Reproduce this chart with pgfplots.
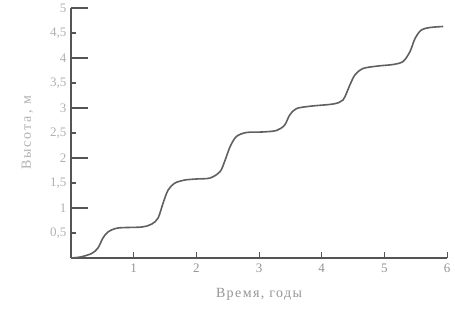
\documentclass[border=0pt]{standalone}
\usepackage{pgfplots}
\pgfplotsset{compat=1.18}
\usepackage{fontspec}
\setmainfont{Liberation Serif}
\definecolor{axc}{HTML}{555555}
\definecolor{crv}{HTML}{606060}
\definecolor{lab}{HTML}{959595}
\definecolor{ylab}{HTML}{B0B0B0}
\pgfplotsset{common/.style={
  scale only axis,
  /pgf/number format/assume math mode=true,
  x tick label style={font=\fontsize{13}{14}\selectfont, text=lab, yshift=-2pt},
  y tick label style={font=\fontsize{13}{14}\selectfont, text=ylab, xshift=-1pt},
  clip=false,
}}
\begin{document}
\begin{tikzpicture}
\begin{axis}[
  common, name=main,
  width=376pt, height=250pt,
  xmin=0, xmax=6, ymin=0, ymax=5,
  axis lines*=left,
  axis line style={draw=axc, line width=1.3pt},
  tick align=inside,
  major tick length=17pt,
  xtick={1,2,3,4,5,6},
  xticklabels={1,2,3,4,5,6},
  xtick style={draw=none},
  ytick={1,2,3,4,5},
  yticklabels={1,2,3,4,5},
  ytick style={draw=axc, line width=1.2pt},
  xlabel={\addfontfeatures{LetterSpace=10}Время, годы},
  xlabel style={font=\fontsize{14}{15}\selectfont, text=lab, yshift=-9pt},
  ylabel={\addfontfeatures{LetterSpace=14}Высота, м},
  ylabel style={font=\fontsize{14}{15}\selectfont, text=ylab, yshift=20pt},
]
\addplot[crv, line width=1.6pt, smooth, tension=0.5] coordinates {
(0,0) (0.15,0.02) (0.33,0.09) (0.43,0.2) (0.51,0.4) (0.59,0.52) (0.75,0.6)
(1.13,0.62) (1.29,0.68) (1.39,0.8) (1.47,1.1) (1.55,1.36) (1.66,1.5) (1.82,1.56)
(2.0,1.58) (2.22,1.6) (2.38,1.73) (2.46,1.96) (2.54,2.23) (2.64,2.43) (2.8,2.51)
(3.05,2.52) (3.28,2.55) (3.41,2.66) (3.49,2.86) (3.6,2.99) (3.85,3.04)
(4.18,3.08) (4.34,3.16) (4.45,3.46) (4.53,3.66) (4.66,3.79) (4.9,3.84)
(5.14,3.87) (5.3,3.93) (5.41,4.13) (5.49,4.39) (5.59,4.56) (5.73,4.61) (5.94,4.63)
};
\end{axis}
% short x ticks: major grid lines of a 6pt-high axis on the bottom spine
\begin{axis}[
  common,
  at={(main.south west)}, anchor=south west,
  width=376pt, height=6pt,
  xmin=0, xmax=6, ymin=0, ymax=1,
  axis line style={draw=none},
  major tick length=0pt,
  xtick={1,2,3,4,5,6}, xticklabels={},
  ytick=\empty,
  xmajorgrids=true,
  major grid style={draw=axc, line width=1pt},
]
\end{axis}
% short y half ticks with their labels: major grid lines of a 5pt-wide axis on the left spine
\begin{axis}[
  common,
  at={(main.south west)}, anchor=south west,
  width=5pt, height=250pt,
  xmin=0, xmax=1, ymin=0, ymax=5,
  axis line style={draw=none},
  major tick length=0pt,
  xtick=\empty,
  ytick={0.5,1.5,2.5,3.5,4.5},
  yticklabels={{0,5},{1,5},{2,5},{3,5},{4,5}},
  ymajorgrids=true,
  major grid style={draw=axc, line width=2.5pt},
]
\end{axis}
\path[use as bounding box] ([xshift=-71pt,yshift=-54pt]main.south west) rectangle ([xshift=8pt,yshift=8pt]main.north east);
\end{tikzpicture}
\end{document}
